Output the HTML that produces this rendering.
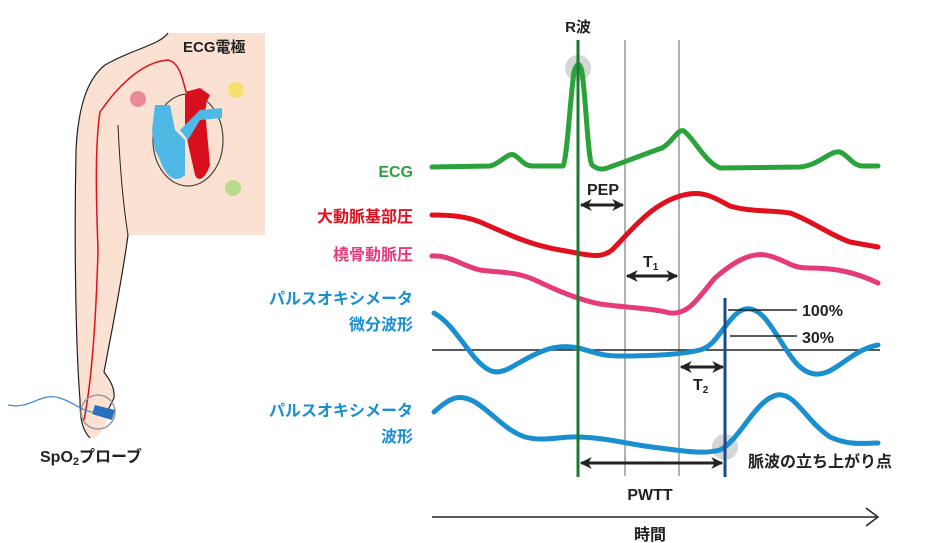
<!DOCTYPE html>
<html><head><meta charset="utf-8"><style>
html,body{margin:0;padding:0;background:#fff;}
svg{display:block;}
text{font-family:"Liberation Sans","Noto Sans CJK JP",sans-serif;font-weight:bold;}
</style></head><body>
<svg width="932" height="543" viewBox="0 0 932 543" xmlns="http://www.w3.org/2000/svg">
<defs>
<marker id="ah" viewBox="0 0 10 10" refX="9" refY="5" markerWidth="4" markerHeight="4" orient="auto-start-reverse"><path d="M0,0 L10,5 L0,10 L3,5z" fill="#222"/></marker>
</defs>
<!-- body -->
<path d="M168,33 L265,33 L265,235 L128,235 C122,280 112,330 104,372 C110,380 115,388 114,398 L108,410 C106,425 100,440 90,438 C82,430 80,418 80,400 C76,350 74,250 76,150 C78,110 86,80 105,65 C130,50 160,45 168,33Z" fill="#fae1d2"/>
<path d="M168,33 C160,45 130,50 105,65 C86,80 78,110 76,150 C74,250 76,350 80,400 C80,418 82,430 90,438" fill="none" stroke="#222" stroke-width="1.2"/>
<path d="M128,235 C122,280 112,330 104,372 C110,380 115,388 114,398 L108,410" fill="none" stroke="#222" stroke-width="1.2"/>
<path d="M118,125 C120,170 124,210 128,235" fill="none" stroke="#222" stroke-width="1"/>
<!-- artery -->
<path d="M186,92 C182,75 178,62 168,60 C140,62 115,90 100,112 C94,150 97,220 98,250 C96,320 92,380 84,420" fill="none" stroke="#e0101e" stroke-width="1.5"/>
<!-- electrodes -->
<circle cx="138" cy="99" r="8" fill="#e98a95"/>
<circle cx="236" cy="90" r="8" fill="#f5e070"/>
<circle cx="233" cy="188" r="8" fill="#b9dc8c"/>
<!-- heart -->
<ellipse cx="188" cy="140" rx="35" ry="46" fill="none" stroke="#444" stroke-width="1.2"/>
<path d="M185,95 C200,85 210,100 205,110 L210,165 C205,180 198,182 195,175 L185,130Z" fill="#d8101e"/>
<path d="M185,92 L200,88 L210,95 L205,105 L195,100Z" fill="#d8101e"/>
<path d="M155,105 L170,105 L175,130 L185,140 L185,175 C175,185 165,175 160,160 L155,150 L152,130Z" fill="#4fb9e6"/>
<path d="M180,130 L200,110 L222,108 L222,118 L200,120 L188,140Z" fill="#4fb9e6"/>
<!-- probe -->
<circle cx="98" cy="412" r="17" fill="none" stroke="#999" stroke-width="1.5"/>
<path d="M95,405 L115,410 L112,420 L92,414Z" fill="#2a6fc0"/>
<path d="M8,405 C30,410 40,392 60,398 C75,403 80,410 92,412" fill="none" stroke="#3a8ad0" stroke-width="1.2"/>
<text x="183" y="52" font-size="15" fill="#222">ECG電極</text>
<text x="40" y="462" font-size="16" fill="#222">SpO<tspan font-size="11" dy="3">2</tspan><tspan dy="-3">プローブ</tspan></text>

<!-- labels -->
<g font-size="16" text-anchor="end">
<text x="413" y="177" fill="#2aa33a">ECG</text>
<text x="413" y="222" fill="#e0101e">大動脈基部圧</text>
<text x="413" y="260" fill="#e63b7a">橈骨動脈圧</text>
<text x="413" y="304" fill="#1a8fd0">パルスオキシメータ</text>
<text x="413" y="330" fill="#1a8fd0">微分波形</text>
<text x="413" y="416" fill="#1a8fd0">パルスオキシメータ</text>
<text x="413" y="442" fill="#1a8fd0">波形</text>
</g>

<!-- verticals -->
<line x1="625" y1="40" x2="625" y2="476" stroke="#666" stroke-width="1"/>
<line x1="679" y1="40" x2="679" y2="476" stroke="#666" stroke-width="1"/>
<line x1="432" y1="350" x2="880" y2="350" stroke="#222" stroke-width="1.5"/>
<circle cx="578" cy="68" r="13" fill="#ccc" opacity="0.8"/>
<circle cx="725" cy="447" r="13" fill="#ccc" opacity="0.8"/>

<g fill="none" stroke-width="5" stroke-linejoin="round" stroke-linecap="round">
<path d="M432,167 L490,166 C500,164 508,152 514,155 C520,158 524,166 532,166 L563,166 C567,160 570,100 574,72 C577,62 580,62 582,72 C586,100 588,160 592,165 C598,170 603,170 610,167 C630,160 650,152 662,148 C672,143 678,128 684,131 C695,140 705,162 720,168 L800,167 C820,165 830,150 840,152 C848,155 852,165 862,166 L878,166" stroke="#2aa33a"/>
<path d="M432,215 C450,215 465,216 480,222 C510,235 530,245 560,250 C585,254 600,260 612,250 C630,232 650,205 680,196 C700,190 710,195 730,206 C750,212 770,210 790,213 C810,220 830,235 850,242 L878,247" stroke="#e0101e"/>
<path d="M432,256 C450,255 460,265 480,270 C500,273 515,271 535,280 C560,292 580,300 600,304 C630,308 650,308 670,313 C690,315 700,295 715,278 C730,265 750,250 770,256 C790,262 790,268 810,268 C835,268 855,272 878,283" stroke="#e63b7a"/>
<path d="M434,313 C450,322 460,340 475,358 C490,375 498,374 510,368 C530,357 550,342 578,348 C595,352 600,356 620,356 C650,356 680,355 700,350 C715,346 720,330 735,315 C745,305 757,306 770,325 C785,345 795,372 815,374 C835,376 850,350 878,345" stroke="#1a8fd0"/>
<path d="M434,412 C450,398 458,393 475,402 C495,415 505,430 525,437 C545,442 560,436 580,437 C610,438 630,445 660,448 C690,452 705,454 720,450 C740,440 755,400 777,395 C795,392 805,420 830,437 C850,446 865,443 878,443" stroke="#1a8fd0"/>
</g>
<line x1="578" y1="40" x2="578" y2="477" stroke="#1a7a30" stroke-width="3"/>
<line x1="725" y1="298" x2="725" y2="477" stroke="#1a4a8a" stroke-width="3"/>
<line x1="728" y1="310" x2="797" y2="310" stroke="#222" stroke-width="1.5"/>
<line x1="730" y1="336" x2="797" y2="336" stroke="#222" stroke-width="1.5"/>

<g stroke="#222" stroke-width="3" marker-start="url(#ah)" marker-end="url(#ah)">
<line x1="581" y1="205" x2="623" y2="205"/>
<line x1="627" y1="276" x2="677" y2="276"/>
<line x1="681" y1="367" x2="723" y2="367"/>
<line x1="581" y1="463" x2="722" y2="463"/>
</g>
<line x1="432" y1="517" x2="876" y2="517" stroke="#222" stroke-width="1.5"/>
<path d="M866,508 L878,517 L866,526" fill="none" stroke="#222" stroke-width="1.5"/>

<g font-size="16" fill="#222">
<text x="578" y="32" text-anchor="middle" font-size="15">R波</text>
<text x="603" y="195" text-anchor="middle">PEP</text>
<text x="643" y="267">T<tspan font-size="10" dy="3">1</tspan></text>
<text x="693" y="390">T<tspan font-size="10" dy="3">2</tspan></text>
<text x="802" y="316">100%</text>
<text x="802" y="343">30%</text>
<text x="748" y="467">脈波の立ち上がり点</text>
<text x="650" y="500" text-anchor="middle">PWTT</text>
<text x="650" y="540" text-anchor="middle">時間</text>
</g>
</svg>
</body></html>
